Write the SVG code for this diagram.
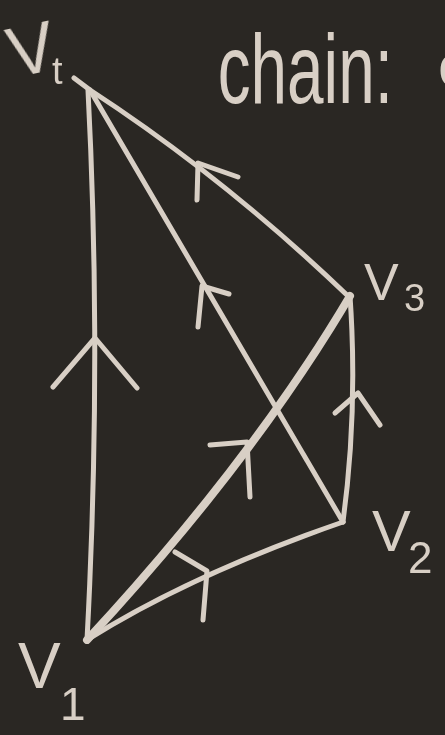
<svg xmlns="http://www.w3.org/2000/svg" width="445" height="735" viewBox="0 0 445 735">
  <style>
    .edge { fill: none; stroke: #d8cfc5; stroke-width: 5; stroke-linecap: round; stroke-linejoin: round; }
    .thick { stroke-width: 8; }
    .chev { fill: none; stroke: #d8cfc5; stroke-width: 5; stroke-linecap: round; stroke-linejoin: round; }
    .lbl { fill: #d8cfc5; font-family: "Liberation Sans", "DejaVu Sans", sans-serif; }
  </style>
  <defs>
    <filter id="chalk" x="-5%" y="-5%" width="110%" height="110%">
      <feGaussianBlur stdDeviation="0.7"/>
    </filter>
  </defs>
  <rect x="0" y="0" width="445" height="735" fill="#2a2723"/>
  <g filter="url(#chalk)">
    <g id="connectors">
      <!-- V1 -> Vt -->
      <path class="edge" d="M87,640 Q102,360 88,90"/>
      <path class="chev" d="M53,387 L95,338 L137,388"/>
      <!-- V2 -> Vt -->
      <path class="edge" d="M343,522 L90,90"/>
      <path class="chev" d="M198,327 L202,286 L229,294"/>
      <!-- V3 -> Vt -->
      <path class="edge" d="M348,296 Q225,178 90,90 L74,78"/>
      <path class="chev" d="M197,200 L198,163 L238,177"/>
      <!-- V2 -> V3 -->
      <path class="edge" d="M343,522 Q358,410 350,296"/>
      <path class="chev" d="M335,413 L358,393 L380,425"/>
      <!-- V1 -> V3 (thick) -->
      <path class="edge thick" d="M87,640 Q252,462 350,296"/>
      <path class="chev" d="M210,445 L247,442 L250,497"/>
      <!-- V1 -> V2 -->
      <path class="edge" d="M87,640 Q190,575 343,522"/>
      <path class="chev" d="M175,552 L207,571 L203,620"/>
    </g>
    <g id="node-vt">
      <text class="lbl" x="8" y="74" font-size="70" transform="rotate(-12 30 50)">V</text>
      <text class="lbl" x="52" y="84" font-size="38">t</text>
    </g>
    <g id="node-v3">
      <text class="lbl" x="364" y="300" font-size="52">V</text>
      <text class="lbl" x="404" y="311" font-size="38">3</text>
    </g>
    <g id="node-v2">
      <text class="lbl" x="372" y="551" font-size="58">V</text>
      <text class="lbl" x="408" y="573" font-size="44">2</text>
    </g>
    <g id="node-v1">
      <text class="lbl" x="18" y="688" font-size="64">V</text>
      <text class="lbl" x="60" y="720" font-size="46">1</text>
    </g>
    <g id="title">
      <text class="lbl" x="325" y="103" font-size="98" transform="scale(0.67,1)">chain:</text>
      <text class="lbl" x="438" y="86" font-size="60">c</text>
    </g>
  </g>
</svg>
